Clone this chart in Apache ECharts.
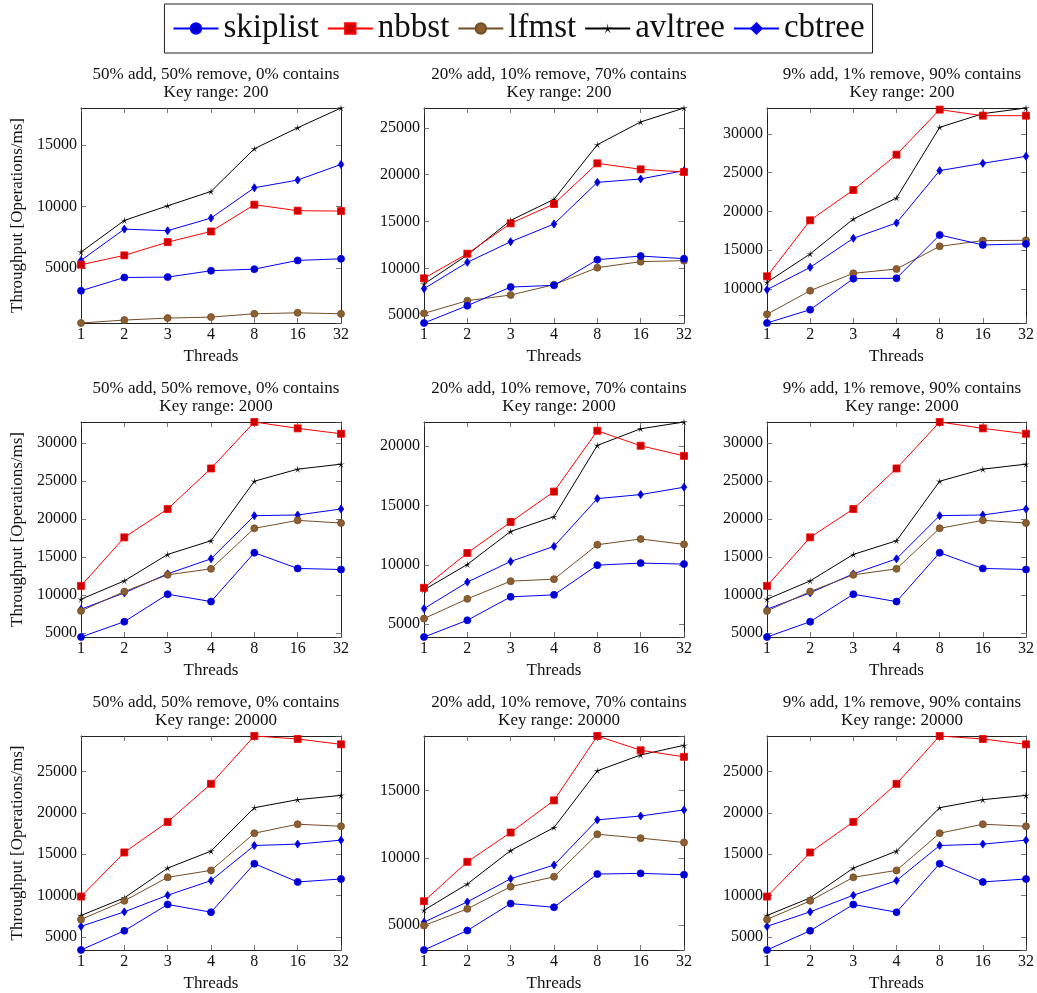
<!DOCTYPE html>
<html><head><meta charset="utf-8">
<script src="https://cdn.jsdelivr.net/npm/echarts@6/dist/echarts.min.js"></script>
<style>html,body{margin:0;padding:0;background:#fff}#c{width:1037px;height:993px}</style>
</head><body><div id="c"></div>
<script>
// ---------- data ----------
const threads = ['1', '2', '3', '4', '8', '16', '32'];
const seriesNames = ['skiplist', 'nbbst', 'lfmst', 'avltree', 'cbtree'];
const mixTitles = ['50% add, 50% remove, 0% contains', '20% add, 10% remove, 70% contains', '9% add, 1% remove, 90% contains'];
const keyRanges = ['200', '2000', '20000'];
const yTickStep = 5000;

// Key range 200
const kr200_mix1_skiplist = [3130, 4210, 4240, 4760, 4890, 5600, 5730];
const kr200_mix1_nbbst    = [5250, 6010, 7090, 7960, 10140, 9650, 9620];
const kr200_mix1_lfmst    = [500, 740, 900, 980, 1250, 1330, 1250];
const kr200_mix1_avltree  = [6280, 8860, 10050, 11220, 14700, 16410, 18020];
const kr200_mix1_cbtree   = [5600, 8150, 8020, 9050, 11520, 12150, 13420];

const kr200_mix2_skiplist = [4160, 6010, 8000, 8180, 10920, 11310, 11030];
const kr200_mix2_nbbst    = [8930, 11560, 14800, 16870, 21210, 20570, 20290];
const kr200_mix2_lfmst    = [5190, 6540, 7150, 8250, 10070, 10710, 10820];
const kr200_mix2_avltree  = [8320, 11420, 15120, 17370, 23200, 25630, 27120];
const kr200_mix2_cbtree   = [7830, 10640, 12840, 14730, 19180, 19540, 20430];

const kr200_mix3_skiplist = [5590, 7310, 11310, 11360, 16950, 15660, 15790];
const kr200_mix3_nbbst    = [11610, 18840, 22750, 27310, 33120, 32340, 32340];
const kr200_mix3_lfmst    = [6710, 9760, 12000, 12560, 15480, 16220, 16260];
const kr200_mix3_avltree  = [10840, 14500, 19010, 21720, 30840, 32600, 33330];
const kr200_mix3_cbtree   = [9890, 12770, 16520, 18500, 25250, 26190, 27100];

// Key range 2000
const kr2000_mix1_skiplist = [4440, 6460, 10080, 9110, 15550, 13480, 13340];
const kr2000_mix1_nbbst    = [11180, 17580, 21320, 26660, 32790, 31950, 31240];
const kr2000_mix1_lfmst    = [7880, 10430, 12640, 13430, 18770, 19820, 19470];
const kr2000_mix1_avltree  = [9420, 11840, 15330, 17130, 24980, 26570, 27230];
const kr2000_mix1_cbtree   = [8100, 10260, 12770, 14750, 20440, 20530, 21320];

const kr2000_mix2_skiplist = [3930, 5340, 7310, 7480, 9980, 10150, 10070];
const kr2000_mix2_nbbst    = [8070, 11000, 13610, 16170, 21290, 20030, 19180];
const kr2000_mix2_lfmst    = [5480, 7140, 8630, 8800, 11700, 12180, 11730];
const kr2000_mix2_avltree  = [7900, 10040, 12820, 14060, 20060, 21460, 22030];
const kr2000_mix2_cbtree   = [6320, 8550, 10290, 11560, 15580, 15920, 16540];

const kr2000_mix3_skiplist = [4440, 6460, 10080, 9110, 15550, 13480, 13340];
const kr2000_mix3_nbbst    = [11180, 17580, 21320, 26660, 32790, 31950, 31240];
const kr2000_mix3_lfmst    = [7880, 10430, 12640, 13430, 18770, 19820, 19470];
const kr2000_mix3_avltree  = [9420, 11840, 15330, 17130, 24980, 26570, 27230];
const kr2000_mix3_cbtree   = [8100, 10260, 12770, 14750, 20440, 20530, 21320];

// Key range 20000
const kr20000_mix1_skiplist = [3410, 5740, 8920, 7990, 13860, 11650, 12010];
const kr20000_mix1_nbbst    = [9880, 15220, 18920, 23530, 29320, 28960, 28310];
const kr20000_mix1_lfmst    = [7110, 9360, 12210, 13050, 17550, 18640, 18390];
const kr20000_mix1_avltree  = [7590, 9720, 13330, 15380, 20640, 21610, 22130];
const kr20000_mix1_cbtree   = [6270, 8030, 10040, 11810, 16060, 16230, 16710];

const kr20000_mix2_skiplist = [3140, 4590, 6590, 6320, 8790, 8840, 8740];
const kr20000_mix2_nbbst    = [6770, 9700, 11880, 14270, 19060, 18000, 17510];
const kr20000_mix2_lfmst    = [4960, 6200, 7850, 8590, 11750, 11460, 11140];
const kr20000_mix2_avltree  = [6100, 8050, 10540, 12250, 16470, 17650, 18370];
const kr20000_mix2_cbtree   = [5210, 6720, 8440, 9460, 12820, 13110, 13560];

const kr20000_mix3_skiplist = [3410, 5740, 8920, 7990, 13860, 11650, 12010];
const kr20000_mix3_nbbst    = [9880, 15220, 18920, 23530, 29320, 28960, 28310];
const kr20000_mix3_lfmst    = [7110, 9360, 12210, 13050, 17550, 18640, 18390];
const kr20000_mix3_avltree  = [7590, 9720, 13330, 15380, 20640, 21610, 22130];
const kr20000_mix3_cbtree   = [6270, 8030, 10040, 11810, 16060, 16230, 16710];

const panels = [
  [kr200_mix1_skiplist, kr200_mix1_nbbst, kr200_mix1_lfmst, kr200_mix1_avltree, kr200_mix1_cbtree],
  [kr200_mix2_skiplist, kr200_mix2_nbbst, kr200_mix2_lfmst, kr200_mix2_avltree, kr200_mix2_cbtree],
  [kr200_mix3_skiplist, kr200_mix3_nbbst, kr200_mix3_lfmst, kr200_mix3_avltree, kr200_mix3_cbtree],
  [kr2000_mix1_skiplist, kr2000_mix1_nbbst, kr2000_mix1_lfmst, kr2000_mix1_avltree, kr2000_mix1_cbtree],
  [kr2000_mix2_skiplist, kr2000_mix2_nbbst, kr2000_mix2_lfmst, kr2000_mix2_avltree, kr2000_mix2_cbtree],
  [kr2000_mix3_skiplist, kr2000_mix3_nbbst, kr2000_mix3_lfmst, kr2000_mix3_avltree, kr2000_mix3_cbtree],
  [kr20000_mix1_skiplist, kr20000_mix1_nbbst, kr20000_mix1_lfmst, kr20000_mix1_avltree, kr20000_mix1_cbtree],
  [kr20000_mix2_skiplist, kr20000_mix2_nbbst, kr20000_mix2_lfmst, kr20000_mix2_avltree, kr20000_mix2_cbtree],
  [kr20000_mix3_skiplist, kr20000_mix3_nbbst, kr20000_mix3_lfmst, kr20000_mix3_avltree, kr20000_mix3_cbtree]
];

// ---------- styling ----------
const FONT = "'Liberation Serif', 'DejaVu Serif', serif";
const starPath = 'path://M50 0 L55.88 41.91 L97.55 34.55 L59.51 53.09 L79.39 90.45 L50 60 L20.61 90.45 L40.49 53.09 L2.45 34.55 L44.12 41.91 Z';
const styles = {
  skiplist: {line: '#0000ff', fill: '#0000cc', symbol: 'circle', size: 7},
  nbbst:    {line: '#ff0000', fill: '#cc0000', symbol: 'rect', size: 7},
  lfmst:    {line: '#734d26', fill: '#8c5e30', symbol: 'circle', size: 7},
  avltree:  {line: '#000000', fill: '#000000', symbol: starPath, size: 8},
  cbtree:   {line: '#0000ff', fill: '#0000cc', symbol: 'diamond', size: [5.5, 8]}
};

const colLeft = [81, 424, 767];
const rowTop = [108, 422, 736];
const W = 260, H = 215;
const AX = '#222';

const grid = [], xAxis = [], yAxis = [], series = [], title = [];
panels.forEach((pdata, p) => {
  const r = Math.floor(p / 3), c = p % 3;
  grid.push({left: colLeft[c], top: rowTop[r], width: W, height: H, containLabel: false});
  const all = [].concat(...pdata);
  const mn = Math.min(...all), mx = Math.max(...all);
  title.push({
    text: mixTitles[c] + '\nKey range: ' + keyRanges[r],
    left: colLeft[c] + W / 2, top: rowTop[r] - 48,
    textAlign: 'center',
    textStyle: {fontFamily: FONT, fontSize: 17, fontWeight: 'normal', color: '#111', lineHeight: 18.5}
  });
  const xb = {
    type: 'category', data: threads, gridIndex: p, boundaryGap: false,
    axisLine: {show: true, onZero: false, lineStyle: {color: AX, width: 1}},
    axisTick: {show: true, inside: true, length: 5, alignWithLabel: true, lineStyle: {color: '#555', width: 0.8}},
    splitLine: {show: false}
  };
  xAxis.push(Object.assign({}, xb, {
    position: 'bottom',
    axisLabel: {show: true, margin: 4, fontFamily: FONT, fontSize: 16, color: '#111'},
    name: 'Threads', nameLocation: 'middle', nameGap: 25,
    nameTextStyle: {fontFamily: FONT, fontSize: 17, color: '#111'}
  }));
  xAxis.push(Object.assign({}, xb, {position: 'top', axisLabel: {show: false}}));
  const yb = {
    type: 'value', gridIndex: p, min: mn, max: mx,
    minInterval: yTickStep, maxInterval: yTickStep,
    axisLine: {show: true, onZero: false, lineStyle: {color: AX, width: 1}},
    axisTick: {show: true, inside: true, length: 5, lineStyle: {color: '#555', width: 0.8}},
    splitLine: {show: false}
  };
  const yLeft = Object.assign({}, yb, {
    position: 'left',
    axisLabel: {show: true, margin: 4, fontFamily: FONT, fontSize: 16, color: '#111',
      showMinLabel: false, showMaxLabel: false, formatter: v => String(v)}
  });
  if (c === 0) {
    Object.assign(yLeft, {
      name: 'Throughput [Operations/ms]', nameLocation: 'middle', nameRotate: 90, nameGap: 55,
      nameTextStyle: {fontFamily: FONT, fontSize: 17, color: '#111'}
    });
  }
  yAxis.push(yLeft);
  yAxis.push(Object.assign({}, yb, {position: 'right', axisLabel: {show: false}}));
  seriesNames.forEach((name, i) => {
    const st = styles[name];
    series.push({
      name, type: 'line', xAxisIndex: 2 * p, yAxisIndex: 2 * p,
      data: pdata[i], clip: false,
      symbol: st.symbol, symbolSize: st.size, symbolKeepAspect: true, showAllSymbol: true,
      lineStyle: {color: st.line, width: 1},
      itemStyle: {color: st.fill, borderColor: st.line, borderWidth: name === 'avltree' ? 0 : 0.8},
      z: 10 - i
    });
  });
});

const chart = echarts.init(document.getElementById('c'), null, {renderer: 'canvas'});
chart.setOption({
  animation: false,
  backgroundColor: '#fff',
  title,
  legend: {
    data: seriesNames, top: 4, left: 'center',
    itemWidth: 45, itemHeight: 13, itemGap: 8,
    padding: [8, 8, 8, 8],
    borderColor: '#222', borderWidth: 1, backgroundColor: '#fff',
    textStyle: {fontFamily: FONT, fontSize: 33, color: '#111'}
  },
  grid, xAxis, yAxis, series
});
</script>
</body></html>
